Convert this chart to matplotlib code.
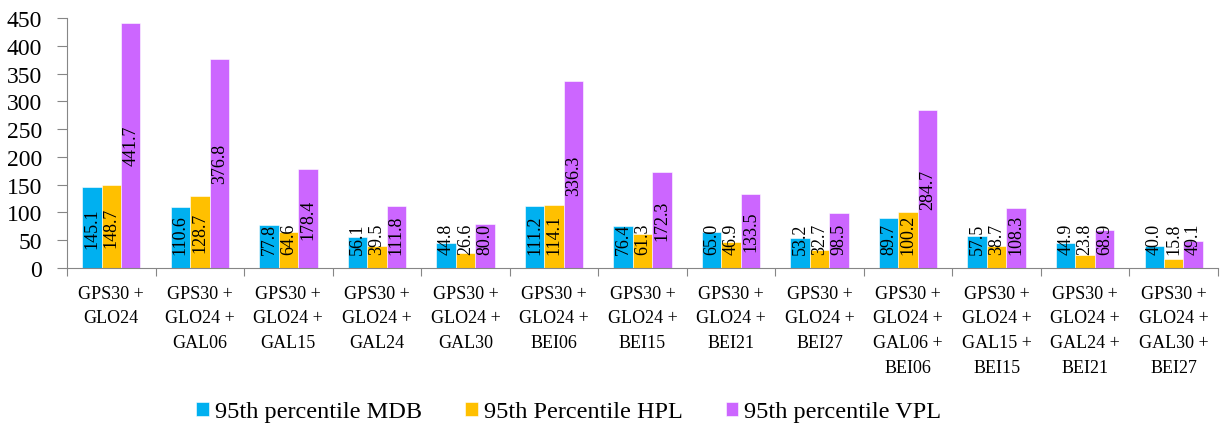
import matplotlib.pyplot as plt
import numpy as np

plt.rcParams['font.family'] = ['Liberation Serif', 'DejaVu Serif']

# Receiver constellation combinations
combos = ['GPS30 +\nGLO24', 'GPS30 +\nGLO24 +\nGAL06', 'GPS30 +\nGLO24 +\nGAL15',
          'GPS30 +\nGLO24 +\nGAL24', 'GPS30 +\nGLO24 +\nGAL30', 'GPS30 +\nGLO24 +\nBEI06',
          'GPS30 +\nGLO24 +\nBEI15', 'GPS30 +\nGLO24 +\nBEI21', 'GPS30 +\nGLO24 +\nBEI27',
          'GPS30 +\nGLO24 +\nGAL06 +\nBEI06', 'GPS30 +\nGLO24 +\nGAL15 +\nBEI15',
          'GPS30 +\nGLO24 +\nGAL24 +\nBEI21', 'GPS30 +\nGLO24 +\nGAL30 +\nBEI27']

mdb = [145.1, 110.6, 77.8, 56.1, 44.8, 111.2, 76.4, 65.0, 53.2, 89.7, 57.5, 44.9, 40.0]
hpl = [148.7, 128.7, 64.6, 39.5, 26.6, 114.1, 61.3, 46.9, 32.7, 100.2, 38.7, 23.8, 15.8]
vpl = [441.7, 376.8, 178.4, 111.8, 80.0, 336.3, 172.3, 133.5, 98.5, 284.7, 108.3, 68.9, 49.1]

series = [('95th percentile MDB', mdb, '#00B0F0'),
          ('95th Percentile HPL', hpl, '#FFC000'),
          ('95th percentile VPL', vpl, '#CC66FF')]

fig = plt.figure(figsize=(12.25, 4.31), dpi=100)
ax = fig.add_axes([0.0547, 0.3759, 0.9396, 0.580])

x = np.arange(len(combos))
w = 0.22
labels = []
for i, (name, vals, color) in enumerate(series):
    pos = x + (i - 1) * w
    ax.bar(pos, vals, w, color=color, label=name, edgecolor='white', linewidth=0.4)
    for p, v in zip(pos, vals):
        t = ax.text(p, v / 2, f'{v:.1f}', rotation=90, ha='center', va='center',
                    fontsize=13, color='black')
        labels.append(t)

ax.set_xlim(-0.5, len(combos) - 0.5)
ax.set_ylim(0, 450)
ax.set_yticks(range(0, 451, 50))

# category ticks sit between groups, names centred under groups
ax.set_xticks(np.arange(len(combos) + 1) - 0.5)
ax.set_xticklabels([])
ax.set_xticks(x, minor=True)
ax.set_xticklabels(combos, minor=True, fontsize=13, linespacing=1.6)
ax.tick_params(axis='x', which='major', direction='out', length=6, color='#868686')
ax.tick_params(axis='x', which='minor', length=0, pad=12)
ax.tick_params(axis='y', direction='out', length=7, color='#868686', labelsize=17, pad=11)

for s in ['top', 'right']:
    ax.spines[s].set_visible(False)
for s in ['left', 'bottom']:
    ax.spines[s].set_color('#868686')

# keep value labels from dropping below the axis
fig.canvas.draw()
inv = ax.transData.inverted()
floor_px = ax.transData.transform((0, 25))[1]
for t in labels:
    bb = t.get_window_extent()
    if bb.y0 < floor_px:
        cx, cy = ax.transData.transform(t.get_position())
        new_y = inv.transform((cx, cy + floor_px - bb.y0))[1]
        t.set_y(new_y)

fig.legend(loc='center', bbox_to_anchor=(0.4645, 0.042), ncol=3, frameon=False,
           fontsize=17.5, handlelength=0.5, handleheight=0.5, handletextpad=0.25,
           columnspacing=1.8)

plt.savefig('out.png', dpi=100)
